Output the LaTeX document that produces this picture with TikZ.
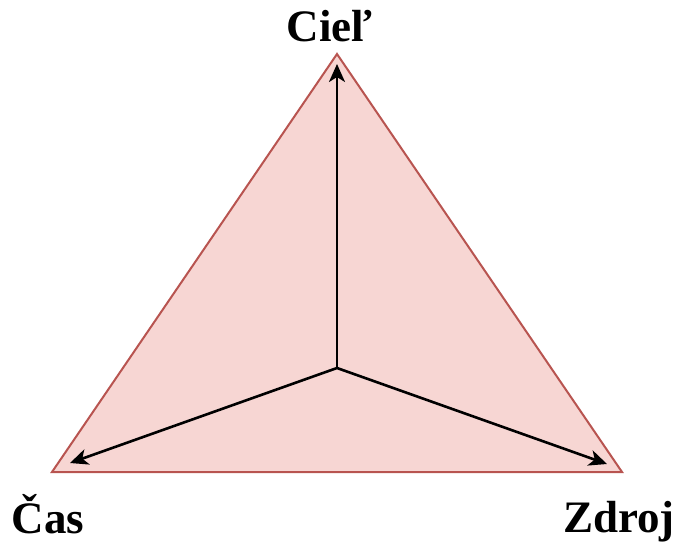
\documentclass[tikz,border=0pt]{standalone}
\usepackage{fontspec}
\setmainfont{Liberation Serif}
\usepackage{xcolor}
\usetikzlibrary{arrows.meta,positioning,calc}
\definecolor{trifill}{HTML}{F7D6D3}
\definecolor{triline}{HTML}{B85450}
\begin{document}
\begin{tikzpicture}[
  x=1pt, y=-1pt,
  tri/.style={draw=triline, fill=trifill, line width=2pt, line join=miter},
  axis/.style={draw=black, line width=2.6pt, -{Stealth[length=18pt,width=16pt,inset=5pt]}},
  lbl/.style={font=\fontsize{45}{47}\selectfont\bfseries, inner sep=0pt}
]
\useasboundingbox (0,0) rectangle (680,544);
\coordinate (top) at (337,54);
\coordinate (left) at (52,472);
\coordinate (right) at (622,472);
\coordinate (mid) at (337,368);
\coordinate (topend) at (337,64);
\coordinate (leftend) at (70,463);
\coordinate (rightend) at (607,464);
\path [tri] (top) -- (right) -- (left) -- cycle;
\draw [axis] (mid) -- (topend);
\draw [axis] (mid) -- (leftend);
\draw [axis] (mid) -- (rightend);
\node [lbl, anchor=base] (ciel) at (330,41) {Cieľ};
\node [lbl, anchor=base] (cas) at (48,533) {Čas};
\node [lbl, anchor=base] (zdroj) at (619,532) {Zdroj};
\end{tikzpicture}
\end{document}
